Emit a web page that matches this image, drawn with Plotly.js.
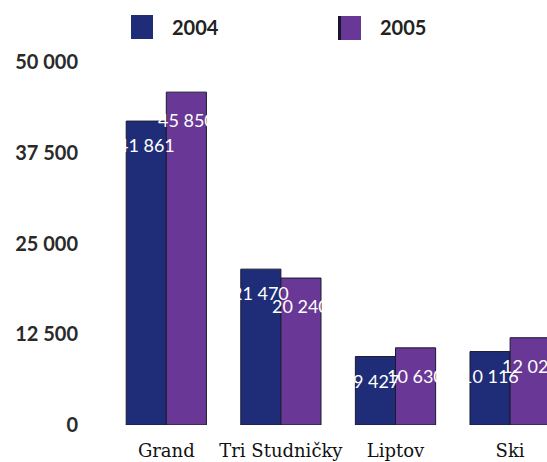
<!DOCTYPE html>
<html>
<head>
<meta charset="utf-8">
<script src="https://cdn.plot.ly/plotly-3.0.1.min.js"></script>
<style>html,body{margin:0;padding:0;background:#fff;}#chart{width:547px;height:462px;}</style>
</head>
<body>
<div id="chart"></div>
<script>
const categories = ['Grand', 'Tri Studničky', 'Liptov', 'Ski'];
const seriesNames = ['2004', '2005'];
const values2004 = [41861, 21470, 9427, 10116];
const values2005 = [45850, 20240, 10630, 12020];
const yTickVals = [0, 12500, 25000, 37500, 50000];
const yTickText = ['0', '12 500', '25 000', '37 500', '50 000'];

const colors = ['#1f2d78', '#693795'];
const fmt = v => String(v).replace(/\B(?=(\d{3})+(?!\d))/g, ' ');

const traces = [values2004, values2005].map((vals, s) => ({
  type: 'bar',
  name: seriesNames[s],
  x: categories,
  y: vals,
  marker: {color: colors[s], line: {color: '#1a1a30', width: 1}},
  showlegend: false,
  hoverinfo: 'x+y'
}));

const annotations = [];
[values2004, values2005].forEach((vals, s) => {
  vals.forEach((v, i) => {
    annotations.push({
      x: categories[i], y: v, xref: 'x', yref: 'y',
      xshift: s === 0 ? -20 : 20, yshift: s === 0 ? -24 : -28,
      text: fmt(v), showarrow: false,
      font: {family: 'Lato, sans-serif', size: 18, color: '#ffffff'}
    });
  });
});
// legend labels
annotations.push({xref: 'paper', yref: 'paper', x: 0.1393, y: 1.0964, xanchor: 'left', yanchor: 'middle',
  text: '<b>' + seriesNames[0] + '</b>', showarrow: false, font: {family: 'Lato, sans-serif', size: 20, color: '#222'}});
annotations.push({xref: 'paper', yref: 'paper', x: 0.6142, y: 1.0964, xanchor: 'left', yanchor: 'middle',
  text: '<b>' + seriesNames[1] + '</b>', showarrow: false, font: {family: 'Lato, sans-serif', size: 20, color: '#222'}});

const shapes = [
  {type: 'rect', xref: 'paper', yref: 'paper', x0: 0.0502, x1: 0.1005, y0: 1.0634, y1: 1.1295,
   fillcolor: colors[0], line: {width: 0}},
  {type: 'rect', xref: 'paper', yref: 'paper', x0: 0.5228, x1: 0.5753, y0: 1.0606, y1: 1.1267,
   fillcolor: colors[1], line: {width: 0}},
  {type: 'rect', xref: 'paper', yref: 'paper', x0: 0.5228, x1: 0.5297, y0: 1.0606, y1: 1.1267,
   fillcolor: '#1a1530', line: {width: 0}}
];

const layout = {
  width: 547, height: 462,
  margin: {l: 109, r: 0, t: 62, b: 37, pad: 0},
  paper_bgcolor: '#ffffff', plot_bgcolor: '#ffffff',
  barmode: 'group', bargap: 0.30, bargroupgap: 0,
  showlegend: false,
  xaxis: {
    type: 'category', range: [-0.5, 3.322], showgrid: false, zeroline: false, showline: false,
    ticks: '', ticklabelstandoff: 13,
    tickfont: {family: '"DejaVu Serif", serif', size: 18, color: '#111'},
    automargin: false, fixedrange: true
  },
  yaxis: {
    range: [0, 50000], tickvals: yTickVals, ticktext: yTickText,
    showgrid: false, zeroline: false, showline: false, ticks: '', ticklabelstandoff: 30,
    tickfont: {family: 'Lato, sans-serif', size: 20, color: '#2a2a2a', weight: 'bold'},
    automargin: false, fixedrange: true
  },
  annotations: annotations,
  shapes: shapes
};

Plotly.newPlot('chart', traces, layout, {displayModeBar: false, staticPlot: true});
</script>
</body>
</html>
